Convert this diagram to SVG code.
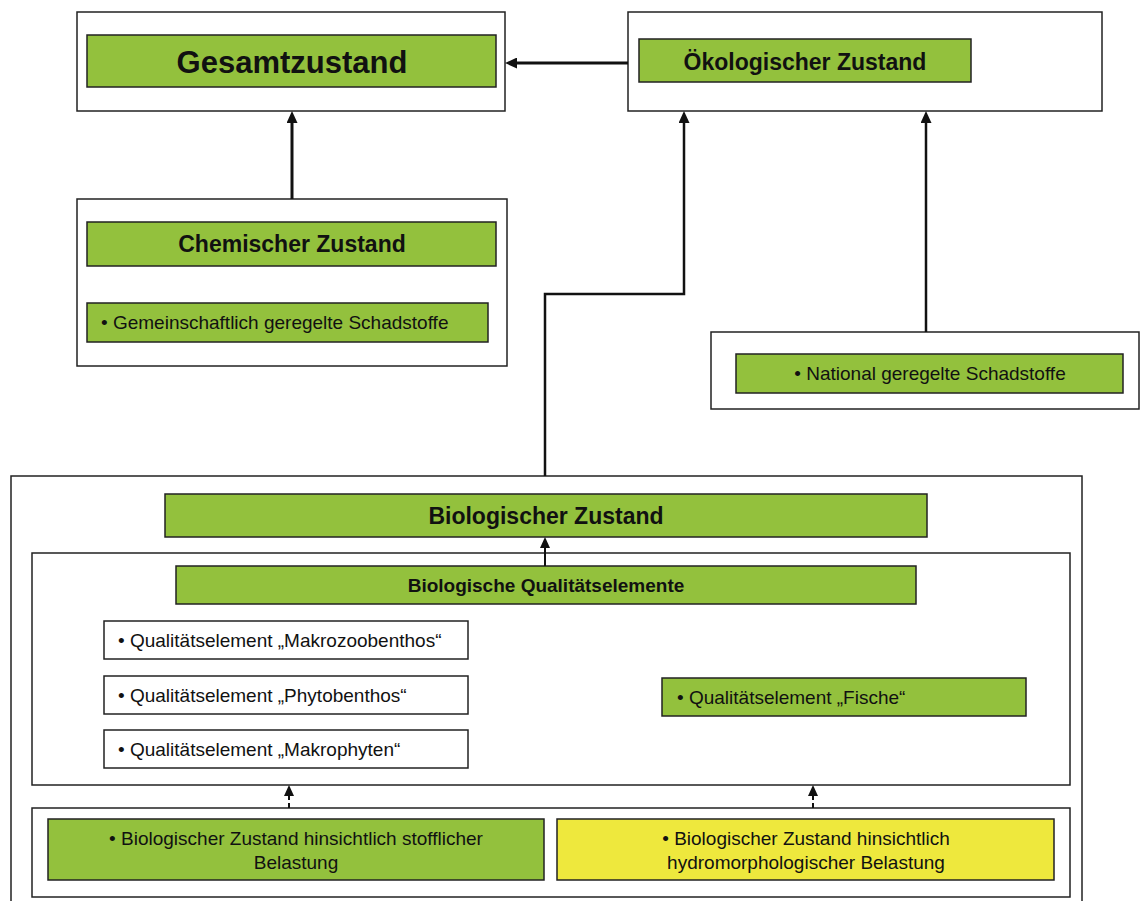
<svg xmlns="http://www.w3.org/2000/svg" width="1140" height="901" viewBox="0 0 1140 901">
  <style>
    .frame { fill: #ffffff; stroke: #222222; stroke-width: 1.5; }
    .green { fill: #93C13D; stroke: #222222; stroke-width: 1.5; }
    .yellow { fill: #EEE83D; stroke: #222222; stroke-width: 1.5; }
    .white { fill: #ffffff; stroke: #222222; stroke-width: 1.5; }
    text { font-family: "Liberation Sans", Arial, sans-serif; fill: #111111; }
    .title { font-weight: bold; text-anchor: middle; }
    .item { font-size: 19px; }
    .mid { text-anchor: middle; }
    .link { fill: none; stroke: #111111; }
  </style>
  <defs>
    <marker id="head" markerUnits="userSpaceOnUse" markerWidth="12" markerHeight="11" viewBox="0 0 12 11" refX="0" refY="5.5" orient="auto">
      <path d="M0,0 L12,5.5 L0,11 z" fill="#111111"/>
    </marker>
    <marker id="headSmall" markerUnits="userSpaceOnUse" markerWidth="11" markerHeight="10" viewBox="0 0 11 10" refX="0" refY="5" orient="auto">
      <path d="M0,0 L11,5 L0,10 z" fill="#111111"/>
    </marker>
  </defs>

  <!-- Gesamtzustand -->
  <g id="gesamtzustand">
    <rect class="frame" x="77" y="12" width="428" height="99"/>
    <rect class="green" x="87" y="35" width="409" height="52"/>
    <text class="title" x="292" y="73" font-size="31">Gesamtzustand</text>
  </g>

  <!-- Ökologischer Zustand -->
  <g id="oekologisch">
    <rect class="frame" x="628" y="12" width="474" height="99"/>
    <rect class="green" x="639" y="39" width="332" height="43"/>
    <text class="title" x="805" y="70" font-size="23">Ökologischer Zustand</text>
  </g>

  <!-- Chemischer Zustand -->
  <g id="chemisch">
    <rect class="frame" x="77" y="199" width="430" height="167"/>
    <rect class="green" x="87" y="222" width="409" height="44"/>
    <text class="title" x="292" y="252" font-size="23">Chemischer Zustand</text>
    <rect class="green" x="87" y="303" width="401" height="39"/>
    <text class="item" x="101" y="329">• Gemeinschaftlich geregelte Schadstoffe</text>
  </g>

  <!-- National geregelte Schadstoffe -->
  <g id="national">
    <rect class="frame" x="711" y="332" width="428" height="77"/>
    <rect class="green" x="736" y="354" width="387" height="39"/>
    <text class="item mid" x="930" y="380">• National geregelte Schadstoffe</text>
  </g>

  <!-- Biologischer Zustand -->
  <g id="biologisch">
    <rect class="frame" x="11" y="476" width="1071" height="440"/>
    <rect class="green" x="165" y="494" width="762" height="43"/>
    <text class="title" x="546" y="524" font-size="23">Biologischer Zustand</text>
  </g>

  <!-- Biologische Qualitätselemente -->
  <g id="qualitaetselemente">
    <rect class="frame" x="32" y="553" width="1038" height="232"/>
    <rect class="green" x="176" y="566" width="740" height="38"/>
    <text class="title" x="546" y="592" font-size="19">Biologische Qualitätselemente</text>
  </g>

  <g id="qe-makrozoobenthos">
    <rect class="white" x="104" y="621" width="364" height="38"/>
    <text class="item" x="118" y="647">• Qualitätselement „Makrozoobenthos“</text>
  </g>
  <g id="qe-phytobenthos">
    <rect class="white" x="104" y="676" width="364" height="38"/>
    <text class="item" x="118" y="702">• Qualitätselement „Phytobenthos“</text>
  </g>
  <g id="qe-makrophyten">
    <rect class="white" x="104" y="730" width="364" height="38"/>
    <text class="item" x="118" y="756">• Qualitätselement „Makrophyten“</text>
  </g>
  <g id="qe-fische">
    <rect class="green" x="662" y="678" width="364" height="38"/>
    <text class="item" x="677" y="704">• Qualitätselement „Fische“</text>
  </g>

  <!-- Belastungsbezogene Bewertung -->
  <g id="belastung">
    <rect class="frame" x="32" y="808" width="1038" height="89" stroke-width="2"/>
  </g>
  <g id="belastung-stofflich">
    <rect class="green" x="48" y="819" width="496" height="61"/>
    <text class="item mid" x="296" y="845">• Biologischer Zustand hinsichtlich stofflicher</text>
    <text class="item mid" x="296" y="869">Belastung</text>
  </g>
  <g id="belastung-hydromorphologisch">
    <rect class="yellow" x="557" y="819" width="497" height="61"/>
    <text class="item mid" x="806" y="845">• Biologischer Zustand hinsichtlich</text>
    <text class="item mid" x="806" y="869">hydromorphologischer Belastung</text>
  </g>

  <!-- Connectors -->
  <g id="connectors">
    <path class="link" d="M628,63 H517" stroke-width="3" marker-end="url(#head)"/>
    <path class="link" d="M292,199 V123" stroke-width="3" marker-end="url(#head)"/>
    <path class="link" d="M926,332 V123" stroke-width="2.5" marker-end="url(#head)"/>
    <path class="link" d="M545,476 V294 H684 V123" stroke-width="2.5" marker-end="url(#head)"/>
    <path class="link" d="M545,566 V548" stroke-width="2" marker-end="url(#headSmall)"/>
    <path class="link" d="M289,808 V796" stroke-width="2" stroke-dasharray="5,3" marker-end="url(#headSmall)"/>
    <path class="link" d="M813,808 V796" stroke-width="2" stroke-dasharray="5,3" marker-end="url(#headSmall)"/>
  </g>
</svg>
